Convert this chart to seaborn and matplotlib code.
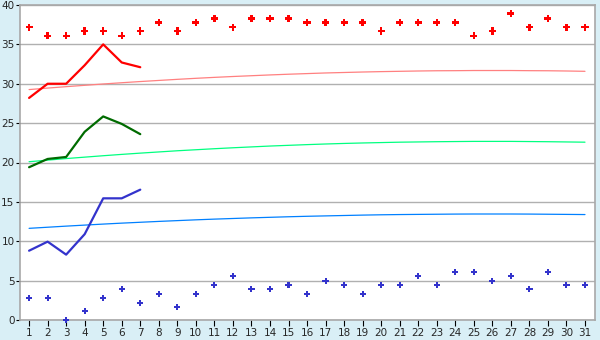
import numpy as np
import pandas as pd
import matplotlib
matplotlib.use("Agg")
import matplotlib.pyplot as plt
import seaborn as sns

days = list(range(1, 32))

high_pts = [37.2, 36.1, 36.1, 36.7, 36.7, 36.1, 36.7, 37.8, 36.7, 37.8,
            38.3, 37.2, 38.3, 38.3, 38.3, 37.8, 37.8, 37.8, 37.8, 36.7,
            37.8, 37.8, 37.8, 37.8, 36.1, 36.7, 38.9, 37.2, 38.3, 37.2, 37.2]
low_pts = [2.8, 2.8, 0.0, 1.1, 2.8, 3.9, 2.2, 3.3, 1.7, 3.3,
           4.4, 5.6, 3.9, 3.9, 4.4, 3.3, 5.0, 4.4, 3.3, 4.4,
           4.4, 5.6, 4.4, 6.1, 6.1, 5.0, 5.6, 3.9, 6.1, 4.4, 4.4]

line_days = [1, 2, 3, 4, 5, 6, 7]
red_line = [28.2, 30.0, 30.0, 32.35, 35.0, 32.7, 32.1]
green_line = [19.4, 20.45, 20.7, 23.9, 25.85, 24.9, 23.6]
blue_line = [8.8, 9.95, 8.3, 10.9, 15.45, 15.45, 16.55]

red_trend = [29.26, 29.45, 29.63, 29.80, 29.97, 30.13, 30.28, 30.42, 30.56, 30.69,
             30.81, 30.92, 31.02, 31.12, 31.21, 31.29, 31.37, 31.43, 31.49, 31.54,
             31.58, 31.62, 31.65, 31.66, 31.68, 31.68, 31.68, 31.66, 31.65, 31.62, 31.58]
green_trend = [20.10, 20.30, 20.50, 20.68, 20.86, 21.03, 21.19, 21.34, 21.49, 21.62,
               21.75, 21.87, 21.98, 22.09, 22.18, 22.27, 22.35, 22.42, 22.48, 22.53,
               22.58, 22.61, 22.64, 22.66, 22.68, 22.68, 22.68, 22.66, 22.64, 22.61, 22.58]
blue_trend = [11.64, 11.78, 11.92, 12.05, 12.18, 12.30, 12.41, 12.52, 12.62, 12.72,
              12.81, 12.89, 12.97, 13.04, 13.11, 13.17, 13.22, 13.27, 13.32, 13.36,
              13.39, 13.41, 13.43, 13.45, 13.46, 13.46, 13.46, 13.45, 13.43, 13.41, 13.39]

y_ticks = [0, 5, 10, 15, 20, 25, 30, 35, 40]

sns.set_style("white")
plt.rcParams['font.family'] = ['DejaVu Sans']

BG = "#d9eff6"
fig = plt.figure(figsize=(6, 3.4), dpi=100, facecolor=BG)
ax = fig.add_axes([20 / 600, 20 / 340, 575 / 600, 315 / 340])
ax.set_facecolor("white")

pts = pd.DataFrame({"day": days, "high": high_pts, "low": low_pts})
lines = pd.DataFrame({"day": line_days, "red": red_line, "green": green_line, "blue": blue_line})
trends = pd.DataFrame({"day": days, "red": red_trend, "green": green_trend, "blue": blue_trend})

for col, c in [("red", "#ff8080"), ("green", "#00ff80"), ("blue", "#0080ff")]:
    sns.lineplot(data=trends, x="day", y=col, ax=ax, color=c, linewidth=0.9, legend=False)

for col, c in [("red", "#ff0000"), ("green", "#006b00"), ("blue", "#3333cc")]:
    sns.lineplot(data=lines, x="day", y=col, ax=ax, color=c, linewidth=1.6, legend=False)

sns.scatterplot(data=pts, x="day", y="high", ax=ax, marker="P", s=26, color="#ff0000",
                edgecolor="none", linewidth=0, clip_on=False, zorder=5, legend=False)
sns.scatterplot(data=pts, x="day", y="low", ax=ax, marker="P", s=20, color="#3333cc",
                edgecolor="none", linewidth=0, clip_on=False, zorder=5, legend=False)

ax.set_xlim(0.51, 31.54)
ax.set_ylim(0, 40)
ax.set_xticks(days)
ax.set_xticklabels([str(d) for d in days])
ax.set_yticks(y_ticks)
ax.set_yticklabels([str(v) for v in y_ticks])
ax.yaxis.grid(True, color="#b0b0b0", linewidth=1.0)
ax.set_axisbelow(True)
ax.set_xlabel("")
ax.set_ylabel("")
for s in ax.spines.values():
    s.set_visible(True)
    s.set_color("#a8a8a8")
    s.set_linewidth(1.2)
ax.tick_params(axis="x", length=4, width=0.8, color="black",
               labelsize=7.5, pad=1.5, direction="out", bottom=True)
ax.tick_params(axis="y", length=3, width=0.8, color="black",
               labelsize=7.5, pad=1, direction="out", left=True)

fig.savefig("out.png", dpi=100, facecolor=BG)
